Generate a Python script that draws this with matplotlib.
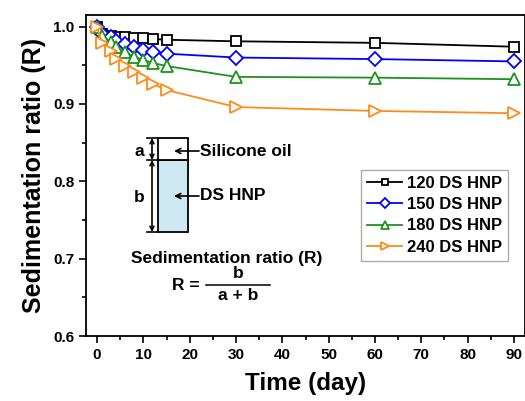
import matplotlib
matplotlib.use("Agg")
import matplotlib.pyplot as plt
from matplotlib.patches import Rectangle

plt.rcParams['font.family'] = ['Liberation Sans', 'DejaVu Sans']

days = [0, 1, 3, 4, 6, 8, 10, 12, 15, 30, 60, 90]
r120 = [1.000, 0.990, 0.988, 0.987, 0.986, 0.985, 0.985, 0.984, 0.983, 0.981, 0.979, 0.974]
r150 = [1.000, 0.991, 0.986, 0.982, 0.978, 0.974, 0.970, 0.967, 0.965, 0.960, 0.958, 0.955]
r180 = [1.000, 0.988, 0.980, 0.973, 0.967, 0.961, 0.957, 0.953, 0.949, 0.935, 0.934, 0.932]
r240 = [1.000, 0.979, 0.968, 0.958, 0.949, 0.941, 0.933, 0.926, 0.918, 0.896, 0.891, 0.888]
labels = ['120 DS HNP', '150 DS HNP', '180 DS HNP', '240 DS HNP']
colors = ['#000000', '#0000ff', '#1e921e', '#ff8c1a']
markers = ['s', 'D', '^', '>']
msizes = [6.5, 7, 8, 8]

fig = plt.figure(figsize=(5.25, 4.01), dpi=100)
W, H = 525, 401
L, R, T, B = 86, 525, 15, 336
ax = fig.add_axes([L / W, 1 - B / H, (R - L) / W, (B - T) / H])

for ys, lab, c, m, ms in zip([r120, r150, r180, r240], labels, colors, markers, msizes):
    ax.plot(days, ys, color=c, marker=m, markersize=ms, markerfacecolor='white',
            markeredgecolor=c, markeredgewidth=1.3, linewidth=1.3, label=lab)

ax.set_xlim(-2.4, 92.4)
ax.set_ylim(0.6, 1.015)
ax.set_xticks(range(0, 91, 10))
ax.set_xticks(range(5, 91, 10), minor=True)
ax.set_yticks([0.6, 0.7, 0.8, 0.9, 1.0])
ax.set_yticks([0.65, 0.75, 0.85, 0.95], minor=True)
ax.tick_params(which='both', direction='out', top=False, right=False, width=1.2)
ax.tick_params(which='major', length=5, labelsize=11)
ax.tick_params(which='minor', length=3)
for lab in ax.get_xticklabels() + ax.get_yticklabels():
    lab.set_fontweight('bold')
for s in ax.spines.values():
    s.set_linewidth(1.3)
ax.set_xlabel('Time (day)', fontsize=17.5, fontweight='bold', labelpad=7)
ax.set_ylabel('Sedimentation ratio (R)', fontsize=18, fontweight='bold', labelpad=5)

leg = ax.legend(loc='upper right', bbox_to_anchor=((508 - L) / (R - L), (B - 170) / (B - T)),
                prop={'weight': 'bold', 'size': 12}, frameon=True, markerscale=0.75,
                fancybox=False, edgecolor='#999999', handlelength=2.1, handletextpad=0.3,
                borderpad=0.35, labelspacing=0.38, borderaxespad=0)
leg.get_frame().set_linewidth(1.0)


def P(px, py):
    return ((px - L) / (R - L), (B - py) / (B - T))

tr = ax.transAxes
# vial diagram
x0, y0 = P(158, 232)
x1, y1 = P(188, 160)
_, ytop = P(188, 138)
ax.add_patch(Rectangle((x0, y0), x1 - x0, y1 - y0, transform=tr, facecolor='#cfe9f3',
                       edgecolor='black', linewidth=1.3))
ax.add_patch(Rectangle((x0, y1), x1 - x0, ytop - y1, transform=tr, facecolor='white',
                       edgecolor='black', linewidth=1.3))
for py in (138, 160, 232):
    xa, ya = P(147, py)
    xb, _ = P(158, py)
    ax.plot([xa, xb], [ya, ya], transform=tr, color='black', linewidth=1.2)
for pa, pb in ((138, 160), (160, 232)):
    ax.annotate('', xy=P(152, pa), xytext=P(152, pb), xycoords=tr, textcoords=tr,
                arrowprops=dict(arrowstyle='<->', color='black', lw=1.2,
                                shrinkA=0, shrinkB=0, mutation_scale=7))
ax.text(*P(139, 151), 'a', transform=tr, fontsize=12.5, fontweight='bold', ha='center', va='center')
ax.text(*P(139, 198), 'b', transform=tr, fontsize=12.5, fontweight='bold', ha='center', va='center')
for py, txt in ((151, 'Silicone oil'), (196, 'DS HNP')):
    ax.annotate('', xy=P(174, py), xytext=P(199, py), xycoords=tr, textcoords=tr,
                arrowprops=dict(arrowstyle='->', color='black', lw=1.2,
                                shrinkA=0, shrinkB=0, mutation_scale=9))
    ax.text(*P(200, py), txt, transform=tr, fontsize=12.5, fontweight='bold', ha='left', va='center')

ax.text(*P(227, 259), 'Sedimentation ratio (R)', transform=tr, fontsize=12.5,
        fontweight='bold', ha='center', va='center')
ax.text(*P(200, 285), 'R =', transform=tr, fontsize=12.5, fontweight='bold', ha='right', va='center')
xa, yb = P(206, 285)
xb, _ = P(270, 285)
ax.plot([xa, xb], [yb, yb], transform=tr, color='black', linewidth=1.1)
ax.text(*P(238, 274), 'b', transform=tr, fontsize=12.5, fontweight='bold', ha='center', va='center')
ax.text(*P(238, 296), 'a + b', transform=tr, fontsize=12.5, fontweight='bold', ha='center', va='center')

fig.savefig('out.png', dpi=100)
